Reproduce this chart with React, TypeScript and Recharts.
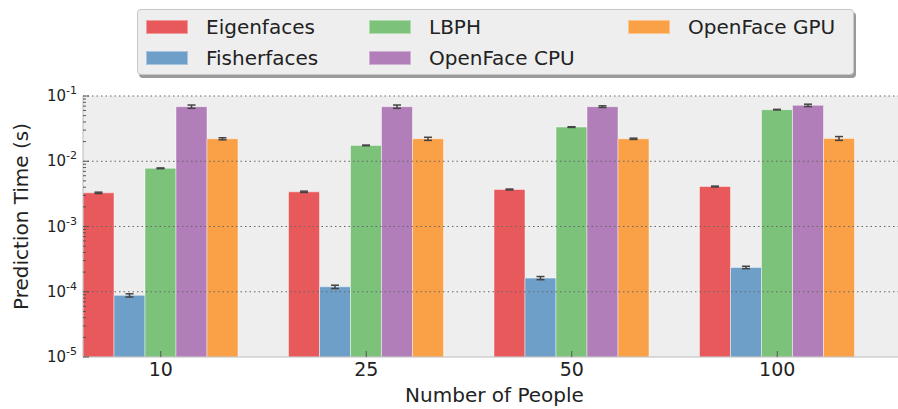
import React from 'react';
import { BarChart, Bar, XAxis, YAxis, CartesianGrid, ReferenceLine, ErrorBar } from 'recharts';

// number of people in the training set
const groups = ['10', '25', '50', '100'];

// mean prediction time (s) and spread, per method
const eigenfaces = [3.28e-3, 3.4e-3, 3.69e-3, 4.1e-3];
const eigenfacesErr = [0.08e-3, 0.08e-3, 0.06e-3, 0.06e-3];
const fisherfaces = [8.8e-5, 1.19e-4, 1.62e-4, 2.36e-4];
const fisherfacesErr = [0.5e-5, 0.7e-5, 0.9e-5, 1.0e-5];
const lbph = [7.8e-3, 1.75e-2, 3.34e-2, 6.18e-2];
const lbphErr = [0.1e-3, 0.2e-3, 0.4e-3, 0.6e-3];
const openfaceCpu = [6.87e-2, 6.87e-2, 6.87e-2, 7.19e-2];
const openfaceCpuErr = [0.004, 0.004, 0.002, 0.003];
const openfaceGpu = [2.21e-2, 2.21e-2, 2.21e-2, 2.24e-2];
const openfaceGpuErr = [0.0008, 0.0012, 0.0005, 0.0015];

const majorTicks = [1e-5, 1e-4, 1e-3, 1e-2, 1e-1];
const gridLines = [1e-4, 1e-3, 1e-2, 1e-1];

const series = [
  { key: 'eigen', name: 'Eigenfaces', color: '#e7595b' },
  { key: 'fisher', name: 'Fisherfaces', color: '#6e9fc8' },
  { key: 'lbph', name: 'LBPH', color: '#7dc27b' },
  { key: 'cpu', name: 'OpenFace CPU', color: '#b17eb9' },
  { key: 'gpu', name: 'OpenFace GPU', color: '#faa047' },
];

const data = groups.map((g, i) => ({
  group: g,
  eigen: eigenfaces[i], eigenErr: eigenfacesErr[i],
  fisher: fisherfaces[i], fisherErr: fisherfacesErr[i],
  lbph: lbph[i], lbphErr: lbphErr[i],
  cpu: openfaceCpu[i], cpuErr: openfaceCpuErr[i],
  gpu: openfaceGpu[i], gpuErr: openfaceGpuErr[i],
}));

// major decades plus 2..9 minor ticks
const yTicks: number[] = [];
majorTicks.forEach((m, i) => {
  yTicks.push(m);
  if (i < majorTicks.length - 1) {
    for (let k = 2; k <= 9; k++) yTicks.push(Number((m * k).toPrecision(3)));
  }
});

const FONT = '"DejaVu Sans", sans-serif';

function YTick(props: any) {
  const { x, y, payload } = props;
  const lg = Math.log10(payload.value);
  const e = Math.round(lg);
  const major = Math.abs(lg - e) < 1e-6;
  const ax = x + 6;
  return (
    <g>
      <line x1={ax} x2={ax + (major ? 6 : 3)} y1={y} y2={y} stroke="#555" strokeWidth={1} />
      {major && (
        <text x={x} y={y} dy={5} textAnchor="end" fontSize={15} fill="#222" fontFamily={FONT}>
          10<tspan dy={-7} fontSize={11}>{e}</tspan>
        </text>
      )}
    </g>
  );
}

function BottomTick(props: any) {
  const { x, y, payload } = props;
  const ay = y - 6;
  return (
    <g>
      <line x1={x} x2={x} y1={ay} y2={ay - 6} stroke="#555" />
      <text x={x} y={y} dy="0.71em" textAnchor="middle" fontSize={19} fill="#222" fontFamily={FONT}>
        {payload.value}
      </text>
    </g>
  );
}

function TopTick(props: any) {
  const { x, y } = props;
  return <line x1={x} x2={x} y1={y} y2={y + 6} stroke="#555" />;
}

function YLabel(props: any) {
  const { viewBox } = props;
  const cx = viewBox.x + 21;
  const cy = viewBox.y + viewBox.height / 2 - 10;
  return (
    <text
      transform={`translate(${cx},${cy}) rotate(-90)`}
      textAnchor="middle"
      dy="0.35em"
      fontSize={20}
      fill="#222"
      fontFamily={FONT}
    >
      Prediction Time (s)
    </text>
  );
}

const colLeft = [8, 231, 490];

function LegendBox() {
  return (
    <div
      style={{
        position: 'absolute',
        left: 137,
        top: 9,
        width: 717,
        height: 66,
        boxSizing: 'border-box',
        background: '#eeeeee',
        border: '1px solid #c8c8c8',
        borderRadius: 4,
        boxShadow: '2px 3px 0 #9a9a9a',
        fontFamily: FONT,
        fontSize: 20,
        color: '#222',
        zIndex: 2,
      }}
    >
      {series.map((s, i) => {
        const col = Math.floor(i / 2);
        const row = i % 2;
        return (
          <div key={s.key} style={{ position: 'absolute', left: colLeft[col], top: 7 + row * 31, height: 20, display: 'flex', alignItems: 'center' }}>
            <span style={{ display: 'inline-block', width: 42, height: 14, background: s.color, boxSizing: 'border-box', border: '1px solid rgba(255,255,255,0.4)' }} />
            <span style={{ marginLeft: 18, lineHeight: '20px', whiteSpace: 'nowrap' }}>{s.name}</span>
          </div>
        );
      })}
    </div>
  );
}

export default function App() {
  return (
    <div style={{ position: 'absolute', left: 0, top: 0, width: 898, height: 409, background: '#fff', overflow: 'hidden' }}>
      {/* plot face, so the grey runs to the right edge like the cropped original */}
      <div style={{ position: 'absolute', left: 83, top: 96, width: 830, height: 261, background: '#eeeeee' }} />
      <BarChart
        width={906}
        height={409}
        data={data}
        margin={{ top: 96, right: 0, bottom: 0, left: 0 }}
        barSize={31}
        barGap={0}
      >
        <CartesianGrid fill="#eeeeee" horizontal={false} vertical={false} />
        <XAxis
          dataKey="group"
          height={52}
          padding={{ left: -25, right: 26 }}
          tickSize={0}
          tickMargin={6}
          interval={0}
          axisLine={{ stroke: '#bcbcbc' }}
          tick={<BottomTick />}
          label={{ value: 'Number of People', position: 'insideBottom', offset: 7, style: { fontSize: 20, fill: '#222', fontFamily: FONT } }}
        />
        <XAxis
          xAxisId="top"
          orientation="top"
          dataKey="group"
          height={0}
          padding={{ left: -25, right: 26 }}
          tickSize={0}
          tickMargin={0}
          interval={0}
          axisLine={{ stroke: '#bcbcbc' }}
          tick={<TopTick />}
        />
        <YAxis
          scale="log"
          type="number"
          domain={[1e-5, 1e-1]}
          ticks={yTicks}
          interval={0}
          width={83}
          tickSize={0}
          tickMargin={6}
          axisLine={{ stroke: '#bcbcbc' }}
          tick={<YTick />}
          allowDataOverflow
          label={{ content: <YLabel /> }}
        />
        {series.map((s) => (
          <Bar
            key={s.key}
            dataKey={s.key}
            name={s.name}
            fill={s.color}
            stroke="#ffffff"
            strokeOpacity={0.45}
            strokeWidth={1}
            isAnimationActive={false}
          >
            <ErrorBar dataKey={`${s.key}Err`} width={4} stroke="#444" strokeWidth={1.5} direction="y" />
          </Bar>
        ))}
        {gridLines.map((v) => (
          <ReferenceLine key={v} y={v} stroke="#666" strokeDasharray="1.5 3" strokeWidth={1} />
        ))}
      </BarChart>
      <LegendBox />
    </div>
  );
}
